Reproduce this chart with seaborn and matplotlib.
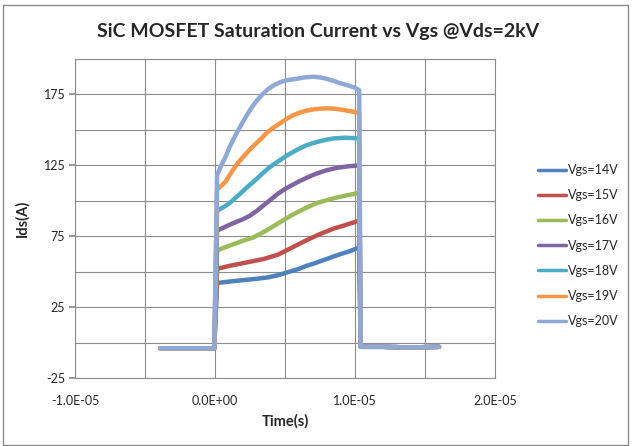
import numpy as np
import pandas as pd
import matplotlib
matplotlib.use("Agg")
import matplotlib.pyplot as plt
import matplotlib.ticker as mticker
from matplotlib.patches import Rectangle
import seaborn as sns

# -----------------------------------------------------------------------------
# Data (time in microseconds, current in A)
# -----------------------------------------------------------------------------
labels = ["Vgs=14V", "Vgs=15V", "Vgs=16V", "Vgs=17V", "Vgs=18V", "Vgs=19V", "Vgs=20V"]
colors = ["#4F81BD", "#C0504D", "#9BBB59", "#8064A2", "#4BACC6", "#F79646", "#8FA9D6"]

# shared baseline before the pulse and after turn-off
t_pre = [-3.9, -2.0, -0.05]
i_pre = [-4, -4, -4]
t_post = [10.4, 12.0, 14.0, 16.0]
i_post = [-3, -3, -3.5, -3]

t_14 = [0.15, 1.0, 2.0, 3.0, 3.8, 4.5, 5.0, 5.5, 6.0, 6.5, 7.0, 7.5, 8.0, 8.5, 9.0, 9.5, 10.3]
i_14 = [42, 43, 44, 45, 46, 47.5, 49, 50.5, 52, 54, 55.5, 57.3, 59, 60.8, 62.5, 64, 67]

t_15 = [0.15, 1.0, 2.0, 3.0, 3.5, 4.0, 4.5, 5.0, 5.5, 6.0, 6.5, 7.0, 7.5, 8.0, 8.5, 9.2, 10.3]
i_15 = [52, 54, 56, 58, 59, 60.5, 62, 64.5, 67, 69.5, 72, 74.3, 76.5, 78.5, 80.5, 82.5, 86]

t_16 = [0.15, 0.8, 1.5, 2.2, 2.7, 3.3, 4.0, 4.5, 5.0, 5.5, 6.0, 6.6, 7.3, 8.0, 8.7, 9.5, 10.3]
i_16 = [65, 67.5, 70, 72.5, 74, 77, 81, 84, 87, 90, 92.5, 95.5, 98.5, 100.5, 102.3, 104, 105.5]

t_17 = [0.15, 0.8, 1.5, 2.0, 2.5, 3.0, 3.5, 4.0, 4.5, 5.0, 5.5, 6.0, 6.5, 7.0, 7.5, 8.0, 8.7, 9.5, 10.3]
i_17 = [79, 82, 85, 87, 89.5, 93, 97, 101, 105, 108.3, 111, 113.7, 116, 118.2, 120, 121.6, 123.2, 124.3, 125]

t_18 = [0.15, 0.6, 1.0, 1.4, 1.8, 2.2, 2.7, 3.2, 3.7, 4.2, 4.7, 5.1, 5.5, 6.0, 6.5, 7.0, 7.5, 8.0, 8.5, 9.3, 10.3]
i_18 = [93, 95.5, 98, 101.5, 105, 108.8, 113, 117.5, 122, 125.8, 129, 131.7, 134, 136.7, 139, 140.7, 142, 143.2, 144, 144.5, 144]

t_19 = [0.15, 0.5, 0.8, 1.0, 1.3, 1.7, 2.2, 2.6, 3.0, 3.4, 3.7, 4.2, 4.7, 5.1, 5.5, 6.0, 6.5, 7.0, 7.5, 8.0, 8.5, 9.0, 9.5, 10.3]
i_19 = [108, 111, 114, 117.5, 122, 127.5, 133, 137.2, 141, 144.8, 148, 151.8, 155, 157.7, 160, 162, 163.5, 164.4, 165, 165.2, 165, 164.3, 163.5, 162]

t_20 = [0.15, 0.4, 0.8, 1.0, 1.3, 1.6, 1.9, 2.2, 2.5, 2.8, 3.1, 3.4, 3.7, 4.0, 4.3, 4.6, 4.9, 5.3, 5.8, 6.4, 7.0, 7.5, 8.0, 8.5, 8.9, 9.3, 9.6, 10.0, 10.3]
i_20 = [118, 124, 132, 137, 143, 148.8, 154, 159.2, 164, 168.3, 172, 175.2, 178, 180.2, 182, 183.4, 184.5, 185.3, 186, 187, 187.5, 187, 186, 184.5, 183, 182, 181, 179.8, 178]

traces = [(t_14, i_14), (t_15, i_15), (t_16, i_16), (t_17, i_17),
          (t_18, i_18), (t_19, i_19), (t_20, i_20)]

frames = []
for lab, (t, i) in zip(labels, traces):
    tt = t_pre + t + t_post
    ii = i_pre + i + i_post
    frames.append(pd.DataFrame({"time": np.array(tt) * 1e-6, "ids": ii, "series": lab}))
df = pd.concat(frames, ignore_index=True)

# -----------------------------------------------------------------------------
# Plot
# -----------------------------------------------------------------------------
sns.set_theme(style="white")
plt.rcParams["font.family"] = ["Lato", "DejaVu Sans"]
plt.rcParams["axes.unicode_minus"] = False

grid_c = "#8c8c8c"

fig = plt.figure(figsize=(6.36, 4.46), dpi=100)
ax = fig.add_axes([75 / 636, 1 - 378 / 446, 420 / 636, 319 / 446])

sns.lineplot(data=df, x="time", y="ids", hue="series", hue_order=labels,
             palette=colors, sort=False, estimator=None, units="series",
             lw=3.2, ax=ax, legend=True)

ax.set_xlim(-1e-5, 2e-5)
ax.set_ylim(-25, 200)
ax.xaxis.set_major_locator(mticker.MultipleLocator(1e-5))
ax.xaxis.set_minor_locator(mticker.MultipleLocator(5e-6))
ax.xaxis.set_major_formatter(mticker.FuncFormatter(lambda v, p: f"{v:.1E}"))
ax.set_yticks([-25, 25, 75, 125, 175])
ax.yaxis.set_minor_locator(mticker.MultipleLocator(25))
ax.grid(which="both", color=grid_c, lw=0.8)
ax.set_axisbelow(True)
for s in ax.spines.values():
    s.set_color(grid_c)
    s.set_linewidth(0.8)
ax.tick_params(axis="y", which="major", left=True, length=4, color=grid_c,
               labelsize=9, pad=3)
ax.tick_params(axis="x", which="major", bottom=False, labelsize=9, pad=6)
ax.tick_params(which="minor", length=0)

ax.set_xlabel("Time(s)", fontsize=10.5, fontweight="bold", labelpad=5)
ax.set_ylabel("Ids(A)", fontsize=10.5, fontweight="bold", labelpad=10)

fig.text(0.5, 1 - 31 / 446, "SiC MOSFET Saturation Current vs Vgs @Vds=2kV",
         ha="center", va="center", fontsize=14, fontweight="bold")

handles, labs = ax.get_legend_handles_labels()
for h in handles:
    h.set_linewidth(2.5)
ax.legend(handles, labs, loc="upper left", bbox_to_anchor=(532 / 636, 1 - 158 / 446),
          bbox_transform=fig.transFigure, frameon=False, fontsize=9,
          handlelength=2.2, handletextpad=0.2, labelspacing=1.05, borderpad=0)

fig.patches.append(Rectangle((3 / 636, 1 / 446), 625 / 636, 440 / 446,
                             transform=fig.transFigure, fill=False,
                             ec=grid_c, lw=1))

plt.savefig("out.png", dpi=100)
